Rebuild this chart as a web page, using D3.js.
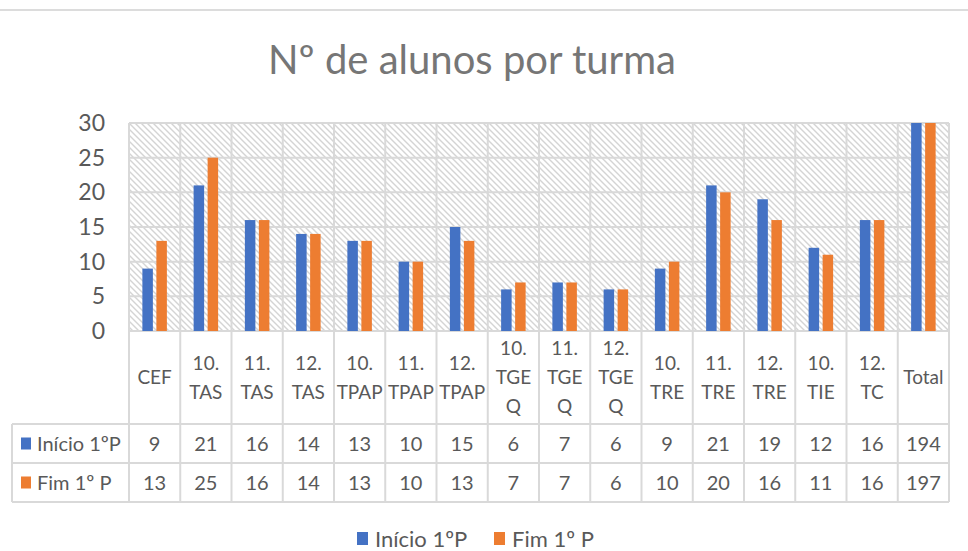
<!DOCTYPE html>
<html>
<head>
<meta charset="utf-8">
<script src="https://cdn.jsdelivr.net/npm/d3@7"></script>
<style>
  body { margin: 0; background: #fff; }
  text { font-family: Lato, "Open Sans", sans-serif; }
</style>
</head>
<body>
<div id="chart"></div>
<script>
// data
var categories = ["CEF", "10. TAS", "11. TAS", "12. TAS", "10. TPAP", "11. TPAP", "12. TPAP",
  "10. TGE Q", "11. TGE Q", "12. TGE Q", "10. TRE", "11. TRE", "12. TRE", "10. TIE", "12. TC", "Total"];
// how each category label wraps inside its table cell
var categoryLines = [["CEF"], ["10.", "TAS"], ["11.", "TAS"], ["12.", "TAS"], ["10.", "TPAP"], ["11.", "TPAP"], ["12.", "TPAP"],
  ["10.", "TGE", "Q"], ["11.", "TGE", "Q"], ["12.", "TGE", "Q"], ["10.", "TRE"], ["11.", "TRE"], ["12.", "TRE"], ["10.", "TIE"], ["12.", "TC"], ["Total"]];
var seriesNames = ["Início 1ºP", "Fim 1º P"];
var inicio = [9, 21, 16, 14, 13, 10, 15, 6, 7, 6, 9, 21, 19, 12, 16, 194];
var fim = [13, 25, 16, 14, 13, 10, 13, 7, 7, 6, 10, 20, 16, 11, 16, 197];
var yTicks = [0, 5, 10, 15, 20, 25, 30];
var colors = ["#4472C4", "#ED7D31"];

var W = 968, H = 551;
var plot = {left: 129, right: 949, top: 123, bottom: 331};
var headerBottom = 424, row1Bottom = 463, row2Bottom = 502, tableLeft = 12;
var gridColor = "#d9d9d9", textColor = "#595959";

var svg = d3.select("#chart").append("svg")
  .attr("width", W).attr("height", H);

// hatch pattern for the plot background
var defs = svg.append("defs");
var pat = defs.append("pattern")
  .attr("id", "hatch")
  .attr("patternUnits", "userSpaceOnUse")
  .attr("width", 6).attr("height", 6);
pat.append("rect").attr("width", 6).attr("height", 6).attr("fill", "#fff");
pat.append("path")
  .attr("d", "M0,0 L6,6 M-1,5 L1,7 M5,-1 L7,1")
  .attr("stroke", "#d4d4d4")
  .attr("stroke-width", 1.4);

// thin border at the top of the picture
svg.append("line")
  .attr("x1", 0).attr("x2", W).attr("y1", 10).attr("y2", 10)
  .attr("stroke", "#dcdcdc").attr("stroke-width", 2);

// title
svg.append("text")
  .attr("x", 472).attr("y", 74)
  .attr("text-anchor", "middle")
  .style("font-size", "40px")
  .style("fill", "#767676")
  .text("Nº de alunos por turma");

var x = d3.scaleBand()
  .domain(categories)
  .range([plot.left, plot.right])
  .padding(0);

var y = d3.scaleLinear()
  .domain([0, 30])
  .range([plot.bottom, plot.top])
  .clamp(true);

var x1 = d3.scaleBand()
  .domain(seriesNames)
  .range([0, 24.5])
  .paddingInner(0.25);
var offset = (x.bandwidth() - 24.5) / 2;

svg.append("rect")
  .attr("x", plot.left).attr("y", plot.top)
  .attr("width", plot.right - plot.left).attr("height", plot.bottom - plot.top)
  .attr("fill", "url(#hatch)");

// horizontal gridlines
svg.append("g").selectAll("line")
  .data(yTicks)
  .enter().append("line")
  .attr("x1", plot.left).attr("x2", plot.right)
  .attr("y1", function(d){ return y(d); })
  .attr("y2", function(d){ return y(d); })
  .attr("stroke", gridColor).attr("stroke-width", 2);

// vertical gridlines, they run down through the table
var bounds = categories.map(function(c){ return x(c); }).concat([plot.right]);
svg.append("g").selectAll("line")
  .data(bounds)
  .enter().append("line")
  .attr("x1", function(d){ return d; }).attr("x2", function(d){ return d; })
  .attr("y1", plot.top).attr("y2", row2Bottom)
  .attr("stroke", gridColor).attr("stroke-width", 2);

// table horizontal lines
var rows = [headerBottom, row1Bottom, row2Bottom];
svg.append("g").selectAll("line")
  .data(rows)
  .enter().append("line")
  .attr("x1", tableLeft).attr("x2", plot.right)
  .attr("y1", function(d){ return d; }).attr("y2", function(d){ return d; })
  .attr("stroke", gridColor).attr("stroke-width", 2);
svg.append("line")
  .attr("x1", tableLeft).attr("x2", tableLeft)
  .attr("y1", headerBottom).attr("y2", row2Bottom)
  .attr("stroke", gridColor).attr("stroke-width", 2);

// bars
var series = [inicio, fim];
series.forEach(function(vals, s){
  svg.append("g").selectAll("rect")
    .data(vals)
    .enter().append("rect")
    .attr("x", function(d, i){ return x(categories[i]) + offset + x1(seriesNames[s]); })
    .attr("width", x1.bandwidth())
    .attr("y", function(d){ return y(d); })
    .attr("height", function(d){ return y(0) - y(d); })
    .attr("fill", colors[s]);
});

// y axis labels
svg.append("g").selectAll("text")
  .data(yTicks)
  .enter().append("text")
  .attr("x", 105)
  .attr("y", function(d){ return y(d); })
  .attr("dy", "0.35em")
  .attr("text-anchor", "end")
  .style("font-size", "23px")
  .style("fill", textColor)
  .text(function(d){ return d; });

// category header cells
var lineH = 29;
var headerMid = (plot.bottom + headerBottom) / 2;
categoryLines.forEach(function(lines, i){
  var cx = x(categories[i]) + x.bandwidth() / 2;
  svg.append("g").selectAll("text")
    .data(lines)
    .enter().append("text")
    .attr("x", cx)
    .attr("y", function(d, k){ return headerMid + (k - (lines.length - 1) / 2) * lineH; })
    .attr("dy", "0.35em")
    .attr("text-anchor", "middle")
    .style("font-size", "19px")
    .style("fill", textColor)
    .text(function(d){ return d; });
});

// value rows
var rowMids = [(headerBottom + row1Bottom) / 2, (row1Bottom + row2Bottom) / 2];
series.forEach(function(vals, s){
  svg.append("g").selectAll("text")
    .data(vals)
    .enter().append("text")
    .attr("x", function(d, i){ return x(categories[i]) + x.bandwidth() / 2; })
    .attr("y", rowMids[s])
    .attr("dy", "0.35em")
    .attr("text-anchor", "middle")
    .style("font-size", "20px")
    .style("fill", textColor)
    .text(function(d){ return d; });

  // legend key inside the table
  svg.append("rect")
    .attr("x", 21).attr("y", rowMids[s] - 6)
    .attr("width", 10).attr("height", 12)
    .attr("fill", colors[s]);
  svg.append("text")
    .attr("x", 37).attr("y", rowMids[s])
    .attr("dy", "0.35em")
    .style("font-size", "20px")
    .style("fill", textColor)
    .text(seriesNames[s]);
});

// legend at the bottom
var legend = svg.append("g");
var legendX = [357, 494];
seriesNames.forEach(function(name, s){
  legend.append("rect")
    .attr("x", legendX[s]).attr("y", 532)
    .attr("width", 11).attr("height", 13)
    .attr("fill", colors[s]);
  legend.append("text")
    .attr("x", legendX[s] + 18).attr("y", 539)
    .attr("dy", "0.35em")
    .style("font-size", "22px")
    .style("fill", textColor)
    .text(name);
});
</script>
</body>
</html>
